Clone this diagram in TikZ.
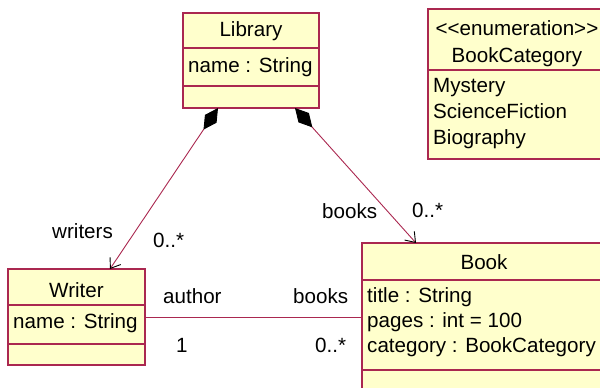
\documentclass[tikz,border=0pt]{standalone}
\usepackage{fontspec}
\setmainfont{Liberation Sans}
\usetikzlibrary{arrows.meta,calc}
\definecolor{umlline}{RGB}{170,40,80}
\definecolor{umlfill}{RGB}{255,255,204}
\tikzset{
  classbox/.style={draw=umlline, fill=umlfill, line width=1.1pt, inner sep=0pt, outer sep=0pt},
  divider/.style={draw=umlline, line width=1.1pt},
  txt/.style={inner sep=0pt, font=\fontsize{20.6}{24}\selectfont, text=black},
  conn/.style={draw=umlline, line width=0.9pt},
  comp/.style={conn, {Diamond[length=26pt,width=14pt,fill=black,color=black]}-{Straight Barb[length=9pt,width=13pt,color=black,line width=0.9pt]}},
}
\begin{document}
\begin{tikzpicture}[x=1pt,y=-1pt]
\useasboundingbox (0,0) rectangle (600,388);
% Library
\node[classbox, minimum width=136pt, minimum height=95pt] (lib) at (251,60.5) {};
\draw[divider] (183,48) -- (319,48);
\draw[divider] (183,86) -- (319,86);
\node[txt, anchor=base] (libname) at (251,36) {Library};
\node[txt, anchor=base west] (libattr) at (188,72) {name : String};
% Enumeration
\node[classbox, minimum width=178pt, minimum height=150pt] (enum) at (517,84) {};
\draw[divider] (428,70) -- (606,70);
\node[txt, anchor=base] (enumst) at (517,35) {<{}<enumeration>{}>};
\node[txt, anchor=base] (enumname) at (517,62) {BookCategory};
\node[txt, anchor=base west] (lit1) at (433,92) {Mystery};
\node[txt, anchor=base west] (lit2) at (433,118) {ScienceFiction};
\node[txt, anchor=base west] (lit3) at (433,144) {Biography};
% Writer
\node[classbox, minimum width=137pt, minimum height=96pt] (writer) at (76.5,317) {};
\draw[divider] (8,305) -- (145,305);
\draw[divider] (8,344) -- (145,344);
\node[txt, anchor=base] (writername) at (76.5,297) {Writer};
\node[txt, anchor=base west] (writerattr) at (13,328) {name : String};
% Book
\node[classbox, minimum width=244pt, minimum height=160pt] (book) at (484,323) {};
\draw[divider] (362,280) -- (606,280);
\draw[divider] (362,370) -- (606,370);
\node[txt, anchor=base] (bookname) at (484,269) {Book};
\node[txt, anchor=base west] (bookattr1) at (367,302) {title : String};
\node[txt, anchor=base west] (bookattr2) at (367,327) {pages : int = 100};
\node[txt, anchor=base west] (bookattr3) at (367,352) {category : BookCategory};
% Compositions
\coordinate (c1s) at ([xshift=-33pt]lib.south);
\coordinate (c1e) at ([xshift=33.5pt]writer.north);
\coordinate (c2s) at ([xshift=44pt]lib.south);
\coordinate (c2e) at ([xshift=-68pt]book.north);
\draw[comp] (c1s) -- (c1e);
\draw[comp] (c2s) -- (c2e);
% Association
\draw[conn] (writer.east) -- (writer.east -| book.west);
% Labels
\node[txt, anchor=base west] (l1) at (52,238) {writers};
\node[txt, anchor=base west] (l2) at (153,247) {0..*};
\node[txt, anchor=base west] (l3) at (322,218) {books};
\node[txt, anchor=base west] (l4) at (412,217) {0..*};
\node[txt, anchor=base west] (l5) at (163,303) {author};
\node[txt, anchor=base west] (l6) at (293,303) {books};
\node[txt, anchor=base west] (l7) at (176,352) {1};
\node[txt, anchor=base west] (l8) at (315,352) {0..*};
\end{tikzpicture}
\end{document}
